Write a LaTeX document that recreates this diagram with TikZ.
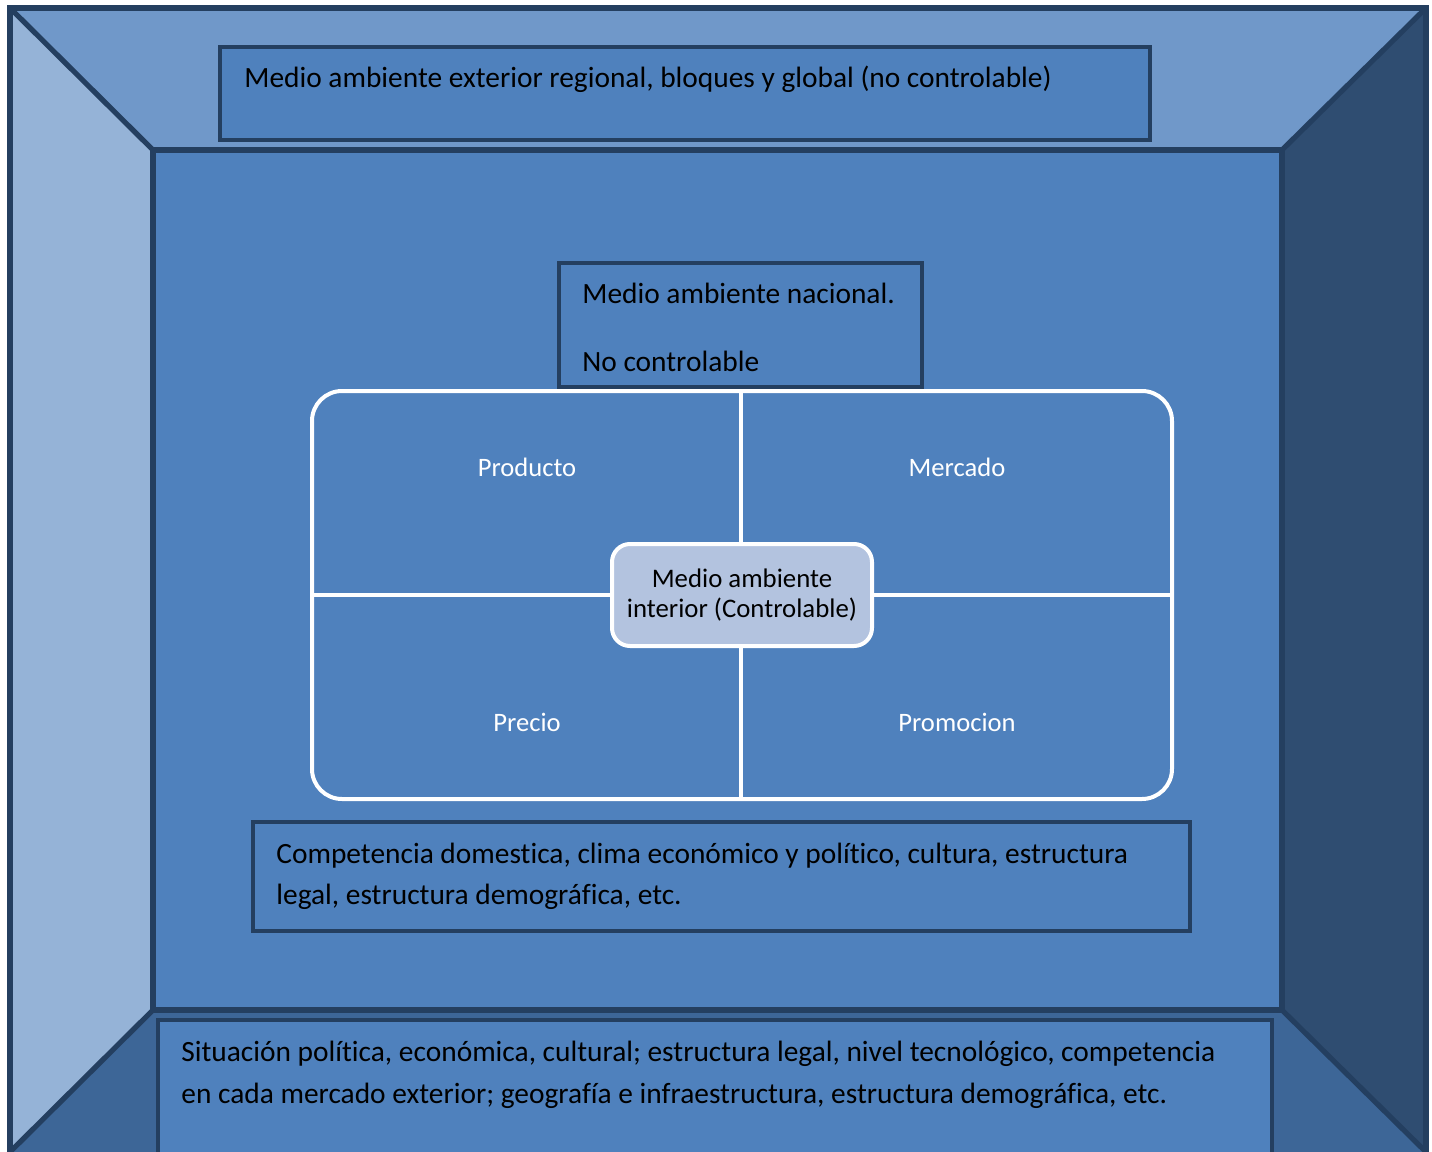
\documentclass[tikz,border=0pt]{standalone}
\usepackage{fontspec}
\setmainfont{Carlito}[Ligatures={NoCommon}]
\begin{document}
\begin{tikzpicture}[x=0.5pt,y=-0.5pt,
  edge/.style={draw=frameblue,line width=2.6pt,line join=miter},
  textbox/.style={fill=midblue,draw=frameblue,line width=2.4pt},
  txt/.style={anchor=base west,inner sep=0pt,font=\fontsize{14.7}{17.6}\selectfont,text=black},
  qlabel/.style={inner sep=0pt,font=\fontsize{13.3}{16}\selectfont,text=white},
  white line/.style={draw=white,line width=2pt}]
\definecolor{frameblue}{HTML}{243F60}
\definecolor{midblue}{HTML}{4F81BD}
\definecolor{topblue}{HTML}{7098C9}
\definecolor{leftblue}{HTML}{95B3D7}
\definecolor{rightblue}{HTML}{2F4D71}
\definecolor{bottomblue}{HTML}{3D6697}
\definecolor{paleblue}{HTML}{B3C3DF}
\useasboundingbox (0,0) rectangle (1432,1152);
\fill[white] (0,0) rectangle (1432,1152);
\begin{scope}
\clip (0,0) rectangle (1432,1152);
% bevelled frame: four trapezoids around the inner panel
\coordinate (o1) at (10,8);
\coordinate (o2) at (1426,8);
\coordinate (o3) at (1426,1152);
\coordinate (o4) at (10,1152);
\coordinate (i1) at (153,150);
\coordinate (i2) at (1282,150);
\coordinate (i3) at (1282,1010);
\coordinate (i4) at (153,1010);
\fill[topblue] (o1) -- (o2) -- (i2) -- (i1) -- cycle;
\fill[leftblue] (o1) -- (i1) -- (i4) -- (o4) -- cycle;
\fill[rightblue] (o2) -- (o3) -- (i3) -- (i2) -- cycle;
\fill[bottomblue] (o4) -- (i4) -- (i3) -- (o3) -- cycle;
\fill[midblue] (i1) rectangle (i3);
\draw[edge] (i1) rectangle (i3);
\draw[edge] (o1) -- (i1);
\draw[edge] (o2) -- (i2);
\draw[edge] (o3) -- (i3);
\draw[edge] (o4) -- (i4);
\draw[edge] (10,1160) -- (o1) -- (o2) -- (1426,1160);

% outer environment
\draw[textbox] (220,47) rectangle (1150,140);
\node[txt] (ext) at (244,87) {Medio ambiente exterior regional, bloques y global (no controlable)};

% foreign markets
\draw[textbox] (158,1020) rectangle (1272,1170);
\node[txt] (sit1) at (181,1061) {Situación política, económica, cultural; estructura legal, nivel tecnológico, competencia};
\node[txt] (sit2) at (181,1103) {en cada mercado exterior; geografía e infraestructura, estructura demográfica, etc.};

% national environment
\draw[textbox] (253,822) rectangle (1190,931);
\node[txt] (dom1) at (276,863) {Competencia domestica, clima económico y político, cultura, estructura};
\node[txt] (dom2) at (276,904) {legal, estructura demográfica, etc.};

% marketing mix quadrants
\draw[white line,rounded corners=15pt] (312,391) rectangle (1172,799);
\draw[white line] (741,391) -- (741,799);
\draw[white line] (312,595) -- (1172,595);
\node[qlabel] (prod) at (527,467) {Producto};
\node[qlabel] (merc) at (957,467) {Mercado};
\node[qlabel] (prec) at (527,722) {Precio};
\node[qlabel] (prom) at (957,722) {Promocion};

\draw[textbox] (559,263) rectangle (922,387);
\node[txt] (nac1) at (582,303) {Medio ambiente nacional.};
\node[txt] (nac2) at (582,371) {No controlable};

% controllable core
\draw[fill=paleblue,draw=white,line width=2pt,rounded corners=9pt] (612,544) rectangle (872,646);
\node[inner sep=0pt,align=center,font=\fontsize{13.4}{14.6}\selectfont] (core) at (742,595) {Medio ambiente\\interior (Controlable)};
\end{scope}
\end{tikzpicture}
\end{document}
